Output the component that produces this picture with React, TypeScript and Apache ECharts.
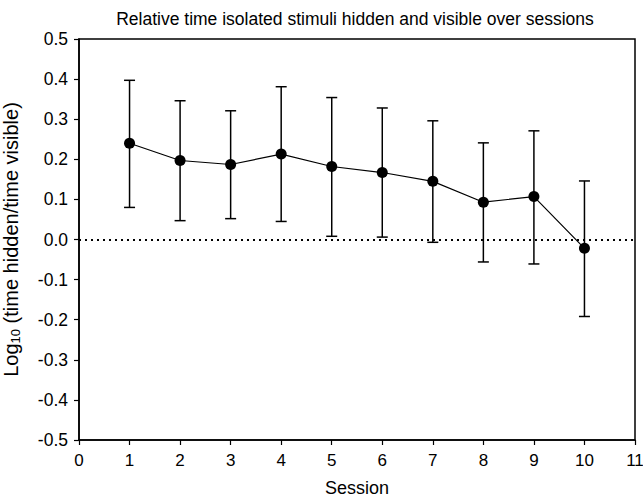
import React, { useEffect, useRef } from "react";
import * as echarts from "echarts";

const sessions = [1, 2, 3, 4, 5, 6, 7, 8, 9, 10];
const means = [0.24, 0.197, 0.187, 0.213, 0.182, 0.167, 0.145, 0.093, 0.107, -0.022];
const upper = [0.397, 0.346, 0.321, 0.381, 0.354, 0.328, 0.296, 0.241, 0.271, 0.146];
const lower = [0.08, 0.047, 0.052, 0.045, 0.008, 0.006, -0.007, -0.056, -0.061, -0.192];
const title = "Relative time isolated stimuli hidden and visible over sessions";

export default function App() {
  const ref = useRef<HTMLDivElement>(null);
  useEffect(() => {
    const chart = echarts.init(ref.current!, null, { renderer: "svg" });
    const font = "'Liberation Sans', Arial, sans-serif";
    chart.setOption({
      animation: false,
      backgroundColor: "#fff",
      title: {
        text: title,
        left: 350,
        textAlign: "center",
        top: 5,
        textStyle: { fontFamily: font, fontSize: 17.5, fontWeight: "normal", color: "#000" },
      },
      grid: {
        left: 79, right: 8, top: 39, bottom: 58,
        containLabel: false,
        outerBoundsMode: "none",
        show: true, borderColor: "#000", borderWidth: 1.5, backgroundColor: "transparent",
      },
      xAxis: {
        type: "value", min: 0, max: 11, interval: 1,
        name: "Session", nameLocation: "middle", nameGap: 39,
        nameTextStyle: { fontFamily: font, fontSize: 18, color: "#000" },
        axisLine: { show: true, onZero: false, lineStyle: { color: "#000", width: 1.5 } },
        axisTick: { show: true, inside: false, length: 5, lineStyle: { color: "#000", width: 1.2 } },
        axisLabel: { fontFamily: font, fontSize: 17, color: "#000", margin: 12 },
        splitLine: { show: false },
      },
      yAxis: {
        type: "value", min: -0.5, max: 0.5, interval: 0.1,
        name: "{a|Log}{b|10}{a| (time hidden/time visible)}",
        nameLocation: "middle", nameGap: 57,
        nameTextStyle: {
          fontFamily: font, fontSize: 20, color: "#000",
          rich: {
            a: { fontFamily: font, fontSize: 20, color: "#000", lineHeight: 22, verticalAlign: "middle" },
            b: { fontFamily: font, fontSize: 13, color: "#000", lineHeight: 22, verticalAlign: "bottom", padding: [10, 0, 0, 0] },
          },
        },
        axisLine: { show: true, lineStyle: { color: "#000", width: 1.5 } },
        axisTick: { show: true, inside: false, length: 5, lineStyle: { color: "#000", width: 1.2 } },
        axisLabel: {
          fontFamily: font, fontSize: 17.5, color: "#000", margin: 11,
          formatter: (v: number) => v.toFixed(1),
        },
        splitLine: { show: false },
      },
      series: [
        {
          type: "custom",
          data: sessions.map((s, i) => [s, lower[i], upper[i]]),
          renderItem: (params: any, api: any) => {
            const x = api.value(0);
            const lo = api.coord([x, api.value(1)]);
            const hi = api.coord([x, api.value(2)]);
            const hw = 5.5;
            const style = { stroke: "#000", lineWidth: 1.5 };
            return {
              type: "group",
              children: [
                { type: "line", shape: { x1: lo[0], y1: lo[1], x2: hi[0], y2: hi[1] }, style },
                { type: "line", shape: { x1: hi[0] - hw, y1: hi[1], x2: hi[0] + hw, y2: hi[1] }, style },
                { type: "line", shape: { x1: lo[0] - hw, y1: lo[1], x2: lo[0] + hw, y2: lo[1] }, style },
              ],
            };
          },
          z: 1,
        },
        {
          type: "line",
          data: sessions.map((s, i) => [s, means[i]]),
          symbol: "circle",
          symbolSize: 11,
          itemStyle: { color: "#000" },
          lineStyle: { color: "#000", width: 1.2 },
          z: 3,
          markLine: {
            silent: true,
            symbol: "none",
            label: { show: false },
            lineStyle: { color: "#000", type: [2, 4], width: 2 },
            data: [{ yAxis: 0 }],
          },
        },
      ],
    });
    return () => chart.dispose();
  }, []);
  return (
    <div
      ref={ref}
      style={{ position: "fixed", left: 0, top: 0, width: 643, height: 498 }}
    />
  );
}
